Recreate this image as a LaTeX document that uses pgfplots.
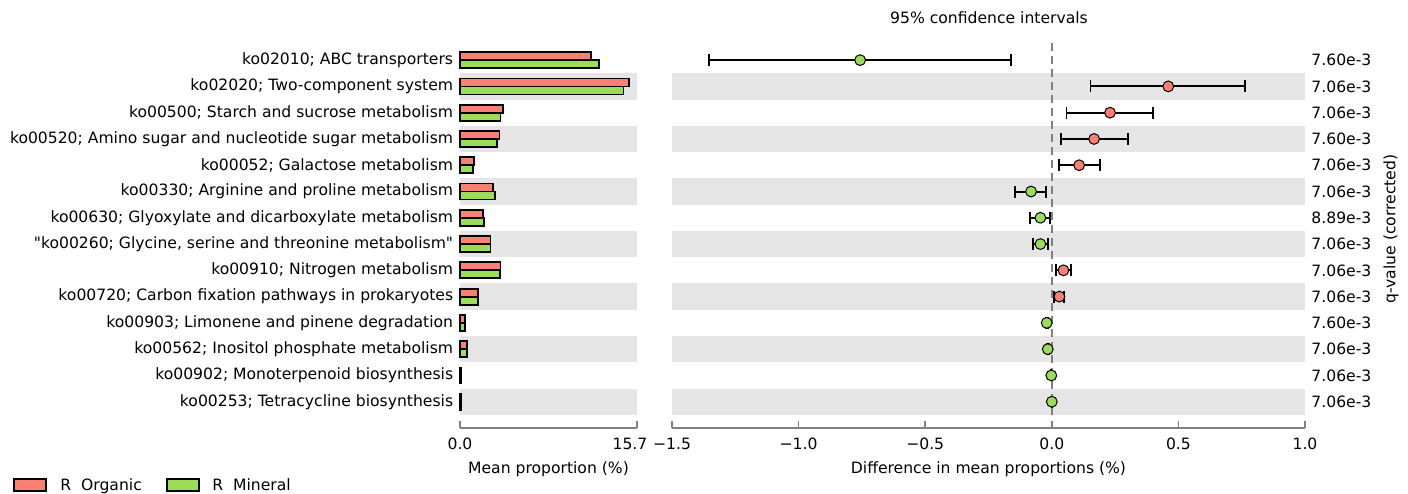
\documentclass[border=0pt]{standalone}
\usepackage{fontspec}
\setmainfont{DejaVu Sans}
\usepackage{pgfplots}
\pgfplotsset{compat=1.18}
\usepackage{pgfplotstable}
\definecolor{cred}{RGB}{250,128,114}
\definecolor{cgreen}{RGB}{155,221,88}
\definecolor{band}{RGB}{229,229,229}
\newcommand{\fs}{\fontsize{7.8}{9}\selectfont}

\pgfplotstableread{
y red green
14 11.6 12.3
13 15.0 14.5
12 3.8 3.6
11 3.5 3.3
10 1.25 1.15
9 2.95 3.1
8 2.07 2.13
7 2.7 2.7
6 3.6 3.55
5 1.63 1.6
4 0.45 0.45
3 0.62 0.62
2 0.08 0.08
1 0.12 0.12
}\barsdata

\pgfplotstableread{
y m em ep
14 -0.757 0.597 0.596
9 -0.082 0.062 0.060
8 -0.045 0.041 0.038
7 -0.045 0.030 0.029
4 -0.020 0.005 0.005
3 -0.016 0.004 0.004
2 -0.002 0.001 0.001
1 0.000 0.001 0.001
}\greendata

\pgfplotstableread{
y m em ep
13 0.460 0.307 0.303
12 0.230 0.172 0.170
11 0.167 0.131 0.133
10 0.108 0.080 0.081
6 0.046 0.031 0.029
5 0.030 0.020 0.019
}\reddata

\pgfplotsset{myax/.style={
  scale only axis, height=190.5pt, ymin=0, ymax=14.5,
  axis x line*=bottom, axis y line*=left,
  y axis line style={draw=none},
  x axis line style={draw=gray, line width=1pt},
  tick align=inside, major tick length=3.5pt,
  xtick style={draw=gray, line width=0.75pt},
  ytick style={draw=none},
  clip=false,
  tick label style={font=\fs},
  xticklabel style={yshift=-1.5pt},
  ytick={1,...,14},
}}

\begin{document}
\begin{tikzpicture}
\path[use as bounding box] (0,0) rectangle (704pt,246.5pt);

% left panel
\begin{axis}[myax, at={(230pt,32.5pt)}, anchor=south west, width=88.5pt,
  xmin=0, xmax=15.7, xtick={0,15.7},
  xticklabels={0.0,{\hspace*{-7pt}15.7}},
  yticklabels={
    ko00253; Tetracycline biosynthesis,
    ko00902; Monoterpenoid biosynthesis,
    ko00562; Inositol phosphate metabolism,
    ko00903; Limonene and pinene degradation,
    ko00720; Carbon fixation pathways in prokaryotes,
    ko00910; Nitrogen metabolism,
    {\textquotedbl ko00260; Glycine, serine and threonine metabolism\textquotedbl},
    ko00630; Glyoxylate and dicarboxylate metabolism,
    ko00330; Arginine and proline metabolism,
    ko00052; Galactose metabolism,
    ko00520; Amino sugar and nucleotide sugar metabolism,
    ko00500; Starch and sucrose metabolism,
    ko02020; Two-component system,
    ko02010; ABC transporters},
  yticklabel style={xshift=3.6pt},
  xbar, bar width=4pt]
  \foreach \b in {1,3,...,13} {
    \edef\tmp{\noexpand\fill[band] (axis cs:0,\b-0.5) rectangle (axis cs:15.7,\b+0.5);}
    \tmp
  }
  \addplot[draw=black, line width=0.9pt, fill=cred, bar shift=2pt] table[x=red, y=y] {\barsdata};
  \addplot[draw=black, line width=0.9pt, fill=cgreen, bar shift=-2pt] table[x=green, y=y] {\barsdata};
\end{axis}

% right panel
\begin{axis}[myax, at={(336pt,32.5pt)}, anchor=south west, width=316.5pt,
  xmin=-1.5, xmax=1.0, xtick={-1.5,-1,-0.5,0,0.5,1},
  xticklabels={−1.5,−1.0,−0.5,0.0,0.5,1.0},
  axis y line*=right, yticklabel pos=right,
  yticklabels={7.06e-3,7.06e-3,7.06e-3,7.60e-3,7.06e-3,7.06e-3,7.06e-3,8.89e-3,7.06e-3,7.06e-3,7.60e-3,7.06e-3,7.06e-3,7.60e-3},
  yticklabel style={anchor=west, xshift=-0.3pt},
  ]
  \foreach \b in {1,3,...,13} {
    \edef\tmp{\noexpand\fill[band] (axis cs:-1.5,\b-0.5) rectangle (axis cs:1.0,\b+0.5);}
    \tmp
  }
  \draw[gray, line width=1pt, dash pattern=on 4pt off 2.5pt] (axis cs:0,0.5) -- (axis cs:0,14.7);
  \addplot[only marks, mark=*, mark size=2.7pt, mark options={fill=cgreen, draw=black, line width=0.5pt},
    error bars/.cd, x dir=both, x explicit,
    error bar style={black, line width=1pt},
    error mark options={black, line width=0.9pt, mark size=3pt, rotate=90}]
    table[x=m, y=y, x error plus=ep, x error minus=em] {\greendata};
  \addplot[only marks, mark=*, mark size=2.7pt, mark options={fill=cred, draw=black, line width=0.5pt},
    error bars/.cd, x dir=both, x explicit,
    error bar style={black, line width=1pt},
    error mark options={black, line width=0.9pt, mark size=3pt, rotate=90}]
    table[x=m, y=y, x error plus=ep, x error minus=em] {\reddata};
\end{axis}

% titles and labels
\node[font=\fs] at (494.5pt,237.5pt) {95\% confidence intervals};
\node[font=\fs] at (274.25pt,12pt) {Mean proportion (\%)};
\node[font=\fs] at (494.25pt,12pt) {Difference in mean proportions (\%)};
\node[font=\fs, rotate=90] at (695.5pt,132pt) {q-value (corrected)};

% legend
\draw[black, line width=0.9pt, fill=cred] (7pt,0.9pt) rectangle (23pt,7.2pt);
\node[font=\fs, anchor=base west, inner sep=0pt] at (30pt,1.4pt) {R\ \ Organic};
\draw[black, line width=0.9pt, fill=cgreen] (83.5pt,0.9pt) rectangle (99.5pt,7.2pt);
\node[font=\fs, anchor=base west, inner sep=0pt] at (106pt,1.4pt) {R\ \ Mineral};
\end{tikzpicture}
\end{document}
